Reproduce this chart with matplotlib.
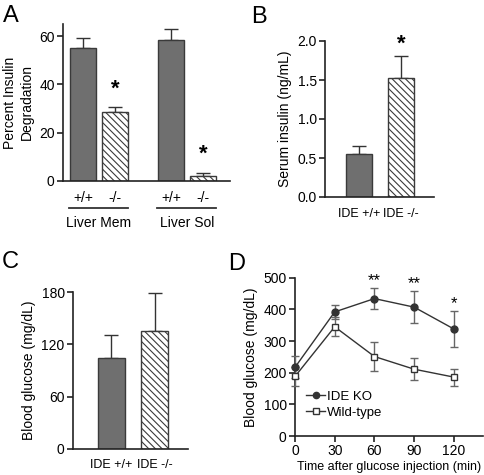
import matplotlib
matplotlib.use("Agg")
import matplotlib.pyplot as plt
from matplotlib.lines import Line2D

plt.rcParams['font.family'] = ['Liberation Sans', 'DejaVu Sans']
plt.rcParams['hatch.linewidth'] = 0.8
plt.rcParams['hatch.color'] = '#555555'

# ===== Данные =====
# A: деградация инсулина
a_labels = ['+/+', '-/-', '+/+', '-/-']
a_values = [55.0, 28.7, 58.3, 2.2]
a_err = [4.3, 2.0, 4.5, 1.0]
a_groups = ['Liver Mem', 'Liver Sol']

# B: инсулин в сыворотке
b_labels = ['IDE +/+', 'IDE -/-']
b_values = [0.55, 1.52]
b_err = [0.11, 0.29]

# C: глюкоза крови
c_labels = ['IDE +/+', 'IDE -/-']
c_values = [104, 135]
c_err = [27, 44]

# D: тест толерантности к глюкозе
d_time = [0, 30, 60, 90, 120]
d_ko = [217, 392, 434, 407, 338]
d_ko_err = [35, 21, 34, 51, 57]
d_wt = [188, 345, 251, 211, 186]
d_wt_err = [29, 30, 45, 34, 27]
d_stars = ['', '', '**', '**', '*']

W, H = 484, 475
fig = plt.figure(figsize=(W / 100, H / 100), dpi=100)

dark = '#6f6f6f'
edge = '#3a3a3a'
tick_fs = 10
label_fs = 10


def ax_px(left, top, right, bottom):
    return fig.add_axes([left / W, (H - bottom) / H, (right - left) / W, (bottom - top) / H])


def style(ax):
    for s in ['top', 'right']:
        ax.spines[s].set_visible(False)
    for s in ['left', 'bottom']:
        ax.spines[s].set_linewidth(1.2)
        ax.spines[s].set_color('#222222')
    ax.tick_params(axis='both', labelsize=tick_fs, width=1.2, length=4, color='#222222', pad=2)


def bars(ax, x, vals, errs, width):
    for i, (xi, v, e) in enumerate(zip(x, vals, errs)):
        if i % 2 == 0:
            ax.bar(xi, v, width, color=dark, edgecolor=edge, linewidth=1.0, zorder=2)
        else:
            ax.bar(xi, v, width, color='white', edgecolor=edge, hatch='\\\\\\\\\\', linewidth=1.0, zorder=2)
        ax.errorbar(xi, v, yerr=[[0], [e]], fmt='none', ecolor='#333333', elinewidth=1.0,
                    capsize=5, capthick=1.0, zorder=1)


# ---- A ----
ax = ax_px(63, 24, 230, 181)
style(ax)
a_x = [0, 1, 2.75, 3.75]
bars(ax, a_x, a_values, a_err, 0.81)
ax.set_xlim(-0.625, 4.59)
ax.set_ylim(0, 65)
ax.set_yticks([0, 20, 40, 60])
ax.set_xticks([])
ax.set_ylabel('Percent Insulin\nDegradation', fontsize=label_fs, labelpad=4)
ax.text(1, 38, '*', ha='center', va='center', fontsize=16, fontweight='bold')
ax.text(3.75, 11, '*', ha='center', va='center', fontsize=16, fontweight='bold')
for xi, lab in zip(a_x, a_labels):
    ax.text(xi, -7, lab, ha='center', va='center', fontsize=label_fs, clip_on=False)
for g, (x0, x1) in enumerate([(a_x[0], a_x[1]), (a_x[2], a_x[3])]):
    ax.plot([x0 - 0.45, x1 + 0.4], [-11.3, -11.3], color='#333333', lw=1.3, clip_on=False)
    ax.text((x0 + x1) / 2, -17.5, a_groups[g], ha='center', va='center', fontsize=label_fs, clip_on=False)

# ---- B ----
ax = ax_px(325, 41, 434, 197)
style(ax)
bars(ax, [0, 1], b_values, b_err, 0.62)
ax.set_xlim(-0.81, 1.79)
ax.set_ylim(0, 2.0)
ax.set_yticks([0, 0.5, 1.0, 1.5, 2.0])
ax.set_yticklabels(['0.0', '0.5', '1.0', '1.5', '2.0'])
ax.set_xticks([0, 1])
ax.set_xticklabels(b_labels, fontsize=9)
ax.tick_params(axis='x', length=0, pad=8)
ax.set_ylabel('Serum insulin (ng/mL)', fontsize=label_fs, labelpad=4)
ax.text(1, 1.96, '*', ha='center', va='center', fontsize=16, fontweight='bold')

# ---- C ----
ax = ax_px(73, 292, 188, 449)
style(ax)
bars(ax, [0, 1], c_values, c_err, 0.62)
ax.set_xlim(-0.88, 1.76)
ax.set_ylim(0, 180)
ax.set_yticks([0, 60, 120, 180])
ax.set_xticks([0, 1])
ax.set_xticklabels(c_labels, fontsize=9)
ax.tick_params(axis='x', length=0, pad=7)
ax.set_ylabel('Blood glucose (mg/dL)', fontsize=label_fs, labelpad=4)

# ---- D ----
ax = ax_px(295, 277.7, 483, 436)
style(ax)
ax.errorbar(d_time, d_ko, yerr=d_ko_err, fmt='-o', color='#333333', mfc='#333333', mec='#333333',
            ms=5, lw=1.0, elinewidth=1.0, ecolor='#666666', capsize=3, zorder=3, clip_on=False)
ax.errorbar(d_time, d_wt, yerr=d_wt_err, fmt='-s', color='#333333', mfc='white', mec='#333333',
            ms=5, lw=1.0, elinewidth=1.0, ecolor='#666666', capsize=3, zorder=3, clip_on=False)
for t, k, e, s in zip(d_time, d_ko, d_ko_err, d_stars):
    if s:
        ax.text(t, k + e + 24, s, ha='center', va='center', fontsize=12)
ax.set_xlim(0, 142)
ax.set_ylim(0, 500)
ax.set_xticks(d_time)
ax.set_yticks([0, 100, 200, 300, 400, 500])
ax.set_xlabel('Time after glucose injection (min)', fontsize=9, labelpad=2)
ax.set_ylabel('Blood glucose (mg/dL)', fontsize=label_fs, labelpad=4)
handles = [
    Line2D([], [], color='#333333', marker='o', mfc='#333333', mec='#333333', ms=4.5, lw=1.0),
    Line2D([], [], color='#333333', marker='s', mfc='white', mec='#333333', ms=4.5, lw=1.0),
]
leg = ax.legend(handles, ['IDE KO', 'Wild-type'], loc='lower left', bbox_to_anchor=(0.06, 0.11),
                frameon=False, fontsize=9.5, handlelength=1.4, handletextpad=0.15, borderpad=0,
                borderaxespad=0, labelspacing=0.25)

# ---- буквы панелей ----
for lab, x, y in [('A', 3, 22), ('B', 251, 23), ('C', 2, 268), ('D', 228, 270)]:
    fig.text(x / W, 1 - y / H, lab, fontsize=17, ha='left', va='baseline')

fig.savefig('out.png', dpi=100)
